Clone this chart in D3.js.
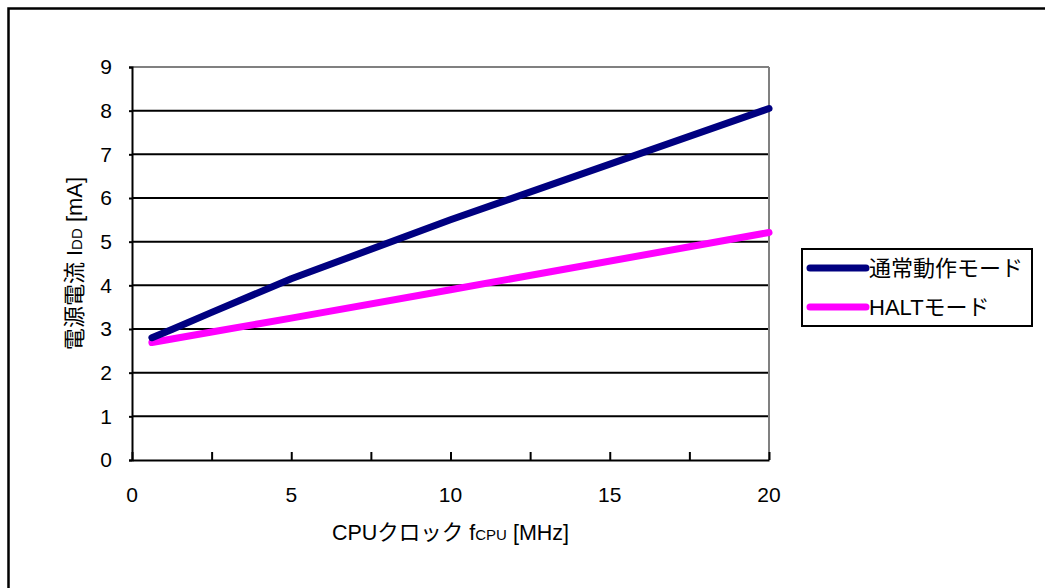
<!DOCTYPE html>
<html>
<head>
<meta charset="utf-8">
<script src="https://cdn.jsdelivr.net/npm/d3@7"></script>
<style>
  html, body { margin: 0; padding: 0; background: #fff; }
  svg { display: block; }
  text { font-family: "Liberation Sans", Arial, "Noto Sans CJK JP", sans-serif; fill: #000; }
  .jp { font-family: "Liberation Sans", "Noto Sans CJK JP", sans-serif; }
</style>
</head>
<body>
<svg id="chart" width="1045" height="588"></svg>
<script>
// CPU clock frequencies (MHz) at which the supply current was measured
const freqMHz = [0.625, 1.25, 2.5, 5, 10, 20];
// Supply current IDD (mA) per operating mode
const normalModeIdd = [2.80, 2.99, 3.38, 4.15, 5.50, 8.05];
const haltModeIdd   = [2.69, 2.77, 2.93, 3.25, 3.90, 5.21];
const seriesNames = ["通常動作モード", "HALTモード"];
const seriesColors = ["#000080", "#FF00FF"];
const yTicks = [0, 1, 2, 3, 4, 5, 6, 7, 8, 9];
const xLabelTicks = [0, 5, 10, 15, 20];
const xMarkTicks = [0, 2.5, 5, 7.5, 10, 12.5, 15, 17.5, 20];

const svg = d3.select("#chart");
const plot = { left: 132, right: 769, top: 67, bottom: 460 };

const x = d3.scaleLinear().domain([0, 20]).range([plot.left, plot.right]);
const y = d3.scaleLinear().domain([0, 9]).range([plot.bottom, plot.top]);

// outer chart frame (runs off the right and bottom edges)
svg.append("rect")
  .attr("x", 8.5).attr("y", 8.5)
  .attr("width", 1060).attr("height", 600)
  .attr("fill", "none").attr("stroke", "#000").attr("stroke-width", 2.5);

// horizontal gridlines
svg.append("g")
  .selectAll("line")
  .data(yTicks.filter(v => v > 0 && v < 9))
  .join("line")
  .attr("x1", plot.left).attr("x2", plot.right)
  .attr("y1", d => y(d)).attr("y2", d => y(d))
  .attr("stroke", "#000").attr("stroke-width", 2);

// plot-area border: top and right in grey
svg.append("line")
  .attr("x1", plot.left).attr("x2", plot.right)
  .attr("y1", y(9)).attr("y2", y(9))
  .attr("stroke", "#808080").attr("stroke-width", 2);
svg.append("line")
  .attr("x1", plot.right).attr("x2", plot.right)
  .attr("y1", y(9)).attr("y2", y(0))
  .attr("stroke", "#808080").attr("stroke-width", 2);

// y axis
const yAxis = d3.axisLeft(y).tickValues(yTicks).tickSize(3).tickPadding(17).tickFormat(d3.format("d"));
const gy = svg.append("g").attr("transform", `translate(${plot.left},0)`).call(yAxis);
gy.select(".domain").attr("stroke", "#000").attr("stroke-width", 2);
gy.selectAll(".tick line").attr("stroke", "#000").attr("stroke-width", 2);
gy.selectAll(".tick text").attr("font-size", 21).attr("font-family", "Liberation Sans, Arial, sans-serif").attr("fill", "#000");

// x axis: inward tick marks every 2.5, labels every 5
const xAxis = d3.axisBottom(x).tickValues(xMarkTicks).tickSize(-8).tickSizeOuter(0).tickFormat(() => "");
const gx = svg.append("g").attr("transform", `translate(0,${plot.bottom})`).call(xAxis);
gx.select(".domain").attr("stroke", "#000").attr("stroke-width", 2);
gx.selectAll(".tick line").attr("stroke", "#000").attr("stroke-width", 2);

svg.append("g")
  .selectAll("text")
  .data(xLabelTicks)
  .join("text")
  .attr("x", d => x(d)).attr("y", 502)
  .attr("text-anchor", "middle")
  .attr("font-size", 21)
  .text(d => d);

// axis titles
const xt = svg.append("text")
  .attr("x", (plot.left + plot.right) / 2).attr("y", 540)
  .attr("text-anchor", "middle").attr("font-size", 21.5).attr("class", "jp");
xt.append("tspan").text("CPUクロック f");
xt.append("tspan").attr("font-size", 15).text("CPU");
xt.append("tspan").text(" [MHz]");

const yt = svg.append("text")
  .attr("transform", `translate(82,${(plot.top + plot.bottom) / 2}) rotate(-90)`)
  .attr("text-anchor", "middle").attr("font-size", 22).attr("class", "jp");
yt.append("tspan").text("電源電流 I");
yt.append("tspan").attr("font-size", 15).text("DD");
yt.append("tspan").text(" [mA]");

// data lines
const line = d3.line().x(d => x(d[0])).y(d => y(d[1]));
const seriesData = [normalModeIdd, haltModeIdd].map(vals => freqMHz.map((f, i) => [f, vals[i]]));

svg.append("g")
  .selectAll("path")
  .data(seriesData.slice().reverse())
  .join("path")
  .attr("d", line)
  .attr("fill", "none")
  .attr("stroke", (d, i) => seriesColors.slice().reverse()[i])
  .attr("stroke-width", 7)
  .attr("stroke-linecap", "round")
  .attr("stroke-linejoin", "round");

// legend
const lg = svg.append("g");
lg.append("rect")
  .attr("x", 802).attr("y", 249).attr("width", 230).attr("height", 77)
  .attr("fill", "#fff").attr("stroke", "#000").attr("stroke-width", 2);
const items = lg.selectAll("g.item")
  .data(seriesNames)
  .join("g").attr("class", "item")
  .attr("transform", (d, i) => `translate(0,${268 + i * 39})`);
items.append("line")
  .attr("x1", 810).attr("x2", 866).attr("y1", 0).attr("y2", 0)
  .attr("stroke", (d, i) => seriesColors[i])
  .attr("stroke-width", 7).attr("stroke-linecap", "round");
items.append("text")
  .attr("x", 869).attr("y", 0).attr("dy", "0.36em")
  .attr("font-size", 22).attr("class", "jp")
  .text(d => d);
</script>
</body>
</html>
